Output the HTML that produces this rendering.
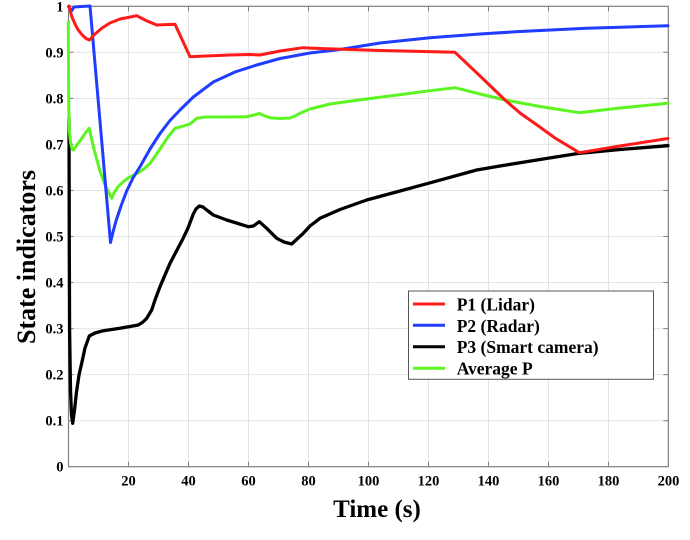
<!DOCTYPE html>
<html>
<head>
<meta charset="utf-8">
<style>
html,body{margin:0;padding:0;background:#fff;}
svg{display:block;}
text{font-family:"Liberation Serif",serif;font-weight:bold;fill:#000;}
</style>
</head>
<body>
<svg width="690" height="540" viewBox="0 0 690 540" xmlns="http://www.w3.org/2000/svg">
<rect x="0" y="0" width="690" height="540" fill="#fff"/>
<!-- grid -->
<g stroke="#e4e4e4" stroke-width="1">
<line x1="128.5" y1="6.3" x2="128.5" y2="466.7"/>
<line x1="188.5" y1="6.3" x2="188.5" y2="466.7"/>
<line x1="248.5" y1="6.3" x2="248.5" y2="466.7"/>
<line x1="308.5" y1="6.3" x2="308.5" y2="466.7"/>
<line x1="368.5" y1="6.3" x2="368.5" y2="466.7"/>
<line x1="428.5" y1="6.3" x2="428.5" y2="466.7"/>
<line x1="488.5" y1="6.3" x2="488.5" y2="466.7"/>
<line x1="548.5" y1="6.3" x2="548.5" y2="466.7"/>
<line x1="608.5" y1="6.3" x2="608.5" y2="466.7"/>
<line x1="68.5" y1="420.7" x2="668.3" y2="420.7"/>
<line x1="68.5" y1="374.6" x2="668.3" y2="374.6"/>
<line x1="68.5" y1="328.6" x2="668.3" y2="328.6"/>
<line x1="68.5" y1="282.5" x2="668.3" y2="282.5"/>
<line x1="68.5" y1="236.5" x2="668.3" y2="236.5"/>
<line x1="68.5" y1="190.5" x2="668.3" y2="190.5"/>
<line x1="68.5" y1="144.4" x2="668.3" y2="144.4"/>
<line x1="68.5" y1="98.4" x2="668.3" y2="98.4"/>
<line x1="68.5" y1="52.3" x2="668.3" y2="52.3"/>
</g>
<!-- ticks -->
<g stroke="#808080" stroke-width="1">
<path d="M128.5 466.7v-5M188.5 466.7v-5M248.5 466.7v-5M308.5 466.7v-5M368.5 466.7v-5M428.5 466.7v-5M488.5 466.7v-5M548.5 466.7v-5M608.5 466.7v-5"/>
<path d="M128.5 6.3v5M188.5 6.3v5M248.5 6.3v5M308.5 6.3v5M368.5 6.3v5M428.5 6.3v5M488.5 6.3v5M548.5 6.3v5M608.5 6.3v5"/>
<path d="M68.5 420.7h5M68.5 374.6h5M68.5 328.6h5M68.5 282.5h5M68.5 236.5h5M68.5 190.5h5M68.5 144.4h5M68.5 98.4h5M68.5 52.3h5"/>
<path d="M668.3 420.7h-5M668.3 374.6h-5M668.3 328.6h-5M668.3 282.5h-5M668.3 236.5h-5M668.3 190.5h-5M668.3 144.4h-5M668.3 98.4h-5M668.3 52.3h-5"/>
</g>
<rect x="68.5" y="6.3" width="599.8" height="460.4" fill="none" stroke="#808080" stroke-width="1.2"/>

<!-- series -->
<g fill="none" stroke-width="3" stroke-linejoin="round" stroke-linecap="round">
<polyline stroke="#000000" stroke-width="3.3" points="69,118 69.3,250 69.6,330 70.5,390 71.5,415 72.7,423.3 74.5,410 76.5,392 79,375 81.7,363.3 85,348 89.3,336 95,333 103.3,330.7 120,328.3 138.3,325 143,322 146.7,318.3 151.7,310 155,300 160,286.7 170,263.3 177,250 183.3,238 188,228 193.3,214 196,209 199.3,206 203,207 206.7,210 213.3,215 226.7,220 248.3,226.7 253.3,226 259.3,221.7 266.7,228.3 276.7,238.3 284,242 291.7,244 296,240 303.3,233.3 310,226 320,218.3 340,209.5 366.7,200 400,191 428.3,183.3 476.7,170 500,166 540,159.5 579.3,153.3 620,149.5 668,145.7"/>
<polyline stroke="#5cf521" points="68.3,22 68.5,60 68.8,110 69.3,130 70.5,142 72,149 73.3,150 77,145 82,138 86,132 89.3,128.3 92,141 95,153 100,171 105,185 111.7,198.3 114,193 118,186.7 123,182 128,178 134,175 140,171.7 145,168 150,163.3 156,155 162,146 168,137 175,128.3 182,126.5 190,124 196.7,118.3 205,117 225,117 246.7,116.7 254,115 259.3,113.5 265,116 270,117.7 280,118.5 290,118 295,116 300,113.3 310,109 330,104 355,100.5 380,97.3 405,94 430,90.7 455,87.7 480,94 505,100 540,106.5 579.3,112.7 620,108 668,103.3"/>
<polyline stroke="#1f3cff" points="68.5,6.5 71.5,11 74,7 90,6 110.5,242.5 113,232 116,221 121,206 126.7,191 133,178 140,166.7 150,149 160,133.5 170,120.5 180,110 193.3,97 213.3,82 235,72 256.7,65 280,58.5 310,53 340,49.5 380,43 430,37.7 480,34 520,31.5 586.7,28.3 668,25.7"/>
<polyline stroke="#ff1a1a" points="69,6 70.5,12 72,17 73.3,20 76,26 78.3,30 81,33.5 83.3,36 86,38.5 89.3,40 95,34 102,28 110,23 120,19 128,17.5 136.7,15.7 146,20.5 156.7,25 175,24.3 190,56.7 200,56.3 230,55 250,54.5 260,55 280,51 303,47.7 320,48.5 380,50.5 455,52.3 480,76 505,100 520,113 537,125 555,138 579.3,152.7 620,146 668,138.5"/>
</g>

<!-- y tick labels -->
<g font-size="14.5" text-anchor="end">
<text x="63.5" y="471.7">0</text>
<text x="63.5" y="425.7">0.1</text>
<text x="63.5" y="379.6">0.2</text>
<text x="63.5" y="333.6">0.3</text>
<text x="63.5" y="287.5">0.4</text>
<text x="63.5" y="241.5">0.5</text>
<text x="63.5" y="195.5">0.6</text>
<text x="63.5" y="149.4">0.7</text>
<text x="63.5" y="103.4">0.8</text>
<text x="63.5" y="57.3">0.9</text>
<text x="63.5" y="11.3">1</text>
</g>
<!-- x tick labels -->
<g font-size="14.5" text-anchor="middle">
<text x="128.5" y="485.5">20</text>
<text x="188.5" y="485.5">40</text>
<text x="248.5" y="485.5">60</text>
<text x="308.5" y="485.5">80</text>
<text x="368.5" y="485.5">100</text>
<text x="428.5" y="485.5">120</text>
<text x="488.5" y="485.5">140</text>
<text x="548.5" y="485.5">160</text>
<text x="608.5" y="485.5">180</text>
<text x="668.5" y="485.5">200</text>
</g>
<!-- axis labels -->
<text x="377" y="517" font-size="25" text-anchor="middle">Time (s)</text>
<text transform="translate(35,257) rotate(-90)" font-size="26" text-anchor="middle">State indicators</text>

<!-- legend -->
<rect x="408.5" y="291" width="245" height="88.3" fill="#fff" stroke="#555" stroke-width="1"/>
<g stroke-width="3">
<line x1="413" y1="304" x2="445" y2="304" stroke="#ff1a1a"/>
<line x1="413" y1="325.3" x2="445" y2="325.3" stroke="#1f3cff"/>
<line x1="413" y1="346.7" x2="445" y2="346.7" stroke="#000"/>
<line x1="413" y1="368.2" x2="445" y2="368.2" stroke="#5cf521"/>
</g>
<g font-size="17.5">
<text x="456.7" y="310.5">P1 (Lidar)</text>
<text x="456.7" y="331.8">P2 (Radar)</text>
<text x="456.7" y="353.2">P3 (Smart camera)</text>
<text x="456.7" y="374.6">Average P</text>
</g>
</svg>
</body>
</html>
